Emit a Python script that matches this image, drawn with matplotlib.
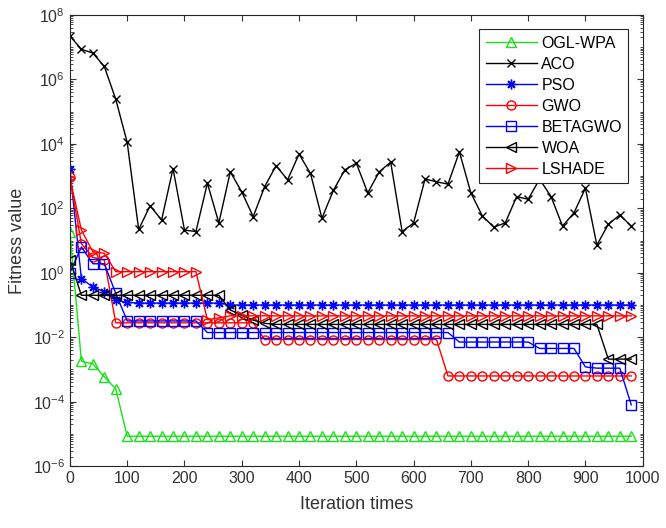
import numpy as np
import matplotlib
matplotlib.use('Agg')
import matplotlib.pyplot as plt
from matplotlib.ticker import FixedLocator, LogLocator, NullFormatter

plt.rcParams['font.family'] = ['Liberation Sans', 'DejaVu Sans']

# iteration at which each marker is drawn
iters = np.arange(0, 1000, 20)

ogl_wpa = [19, 1.8e-3, 1.5e-3, 5.9e-4, 2.5e-4] + [8.5e-6] * 45

aco = [2.2e7, 8.5e6, 6.5e6, 2.5e6, 2.4e5, 1.1e4, 22, 120, 43, 1700,
       21, 19, 600, 35, 1350, 320, 55, 470, 2100, 760,
       4800, 1200, 49, 360, 1550, 2500, 300, 1350, 2700, 19,
       35, 810, 660, 560, 5600, 300, 58, 26, 35, 230,
       190, 800, 230, 28, 72, 420, 7.2, 32, 62, 28]

pso = [1600, 0.66, 0.36, 0.26, 0.14, 0.12, 0.115, 0.115, 0.115, 0.115,
       0.115, 0.115, 0.115, 0.115] + [0.1] * 36

gwo = [900, 8.0, 3.0, 2.5, 0.028] + [0.028] * 12 + [0.0085] * 16 + [6.3e-4] * 17

betagwo = [1.0, 6.3, 1.9, 1.9, 0.23] + [0.032] * 7 + [0.014] * 22 + [0.0071] * 7 \
    + [0.0045] * 4 + [0.0012, 0.0011, 0.0011, 0.0011, 8e-5]

woa = [2.5] + [0.2] * 13 + [0.07, 0.048, 0.034, 0.027] + [0.025] * 29 + [0.0021] * 3

lshade = [850, 21, 4.5, 4.0] + [1.08] * 8 + [0.035, 0.04] + [0.046] * 36

# MATLAB-like asterisk: eight arms
asterisk = (8, 2, 0)

series = [
    ('OGL-WPA', ogl_wpa, '#19e019', '^'),
    ('ACO', aco, 'k', 'x'),
    ('PSO', pso, 'b', asterisk),
    ('GWO', gwo, 'r', 'o'),
    ('BETAGWO', betagwo, 'b', 's'),
    ('WOA', woa, 'k', '<'),
    ('LSHADE', lshade, 'r', '>'),
]

fig = plt.figure(figsize=(6.66, 5.28), dpi=100)
ax = fig.add_axes([0.105, 0.117, 0.86, 0.855])

for name, vals, col, mk in series:
    size = 7
    if mk == 'x':
        size = 6
    elif mk == 'o' or mk == 's':
        size = 6.5
    ax.semilogy(iters, vals, color=col, marker=mk, markersize=size,
                markerfacecolor='none', markeredgecolor=col, linewidth=1,
                markeredgewidth=1, label=name)

ax.set_xlim(0, 1000)
ax.set_ylim(1e-6, 1e8)
ax.set_xticks(np.arange(0, 1001, 100))
ax.yaxis.set_major_locator(FixedLocator(10.0 ** np.arange(-6, 9, 2)))
ax.yaxis.set_minor_locator(LogLocator(base=10, subs=np.arange(1, 10), numticks=100))
ax.yaxis.set_minor_formatter(NullFormatter())

ax.tick_params(which='both', direction='in', top=True, right=True, colors='#333333',
               labelsize=11.5)
ax.tick_params(which='major', length=4)
ax.tick_params(which='minor', length=2)
for sp in ax.spines.values():
    sp.set_color('#262626')
    sp.set_linewidth(0.8)

ax.set_xlabel('Iteration times', fontsize=13, color='#333333', labelpad=7)
ax.set_ylabel('Fitness value', fontsize=13, color='#333333', labelpad=5)

leg = ax.legend(loc='upper right', fontsize=11.5, handlelength=3.2, borderaxespad=0.9,
                fancybox=False, edgecolor='#262626', framealpha=1,
                labelspacing=0.38, handletextpad=0.3, borderpad=0.4)
leg.get_frame().set_linewidth(0.8)

fig.savefig('out.png', dpi=100)
